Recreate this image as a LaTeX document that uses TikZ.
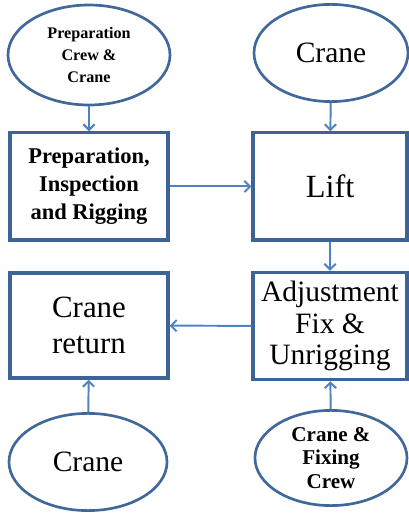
\documentclass[tikz,border=0pt]{standalone}
\usepackage{fontspec}
\setmainfont{Liberation Serif}
\usepackage{xcolor}
\usetikzlibrary{arrows, arrows.meta, shapes.geometric}

\definecolor{boxblue}{HTML}{3C6496}
\definecolor{ovalblue}{HTML}{41689B}
\definecolor{arrowblue}{HTML}{4F83C0}

\tikzset{
  resource/.style={ellipse, draw=ovalblue, line width=1.9pt, align=center, inner sep=0pt},
  task/.style={rectangle, draw=boxblue, line width=2.3pt, align=center, inner sep=0pt},
  flow/.style={draw=arrowblue, line width=1.4pt, -{Straight Barb[length=4pt,width=8pt]}}
}

\begin{document}
\begin{tikzpicture}
%\draw[step=0.5cm,gray,very thin] (0,0) grid (10.225,12.95); %background grid
\useasboundingbox (0,0) rectangle (10.225,12.95);
% resources
\node[resource, minimum width=4.05cm, minimum height=2.5cm,
  font=\fontsize{11.5}{15.5}\selectfont\bfseries] (prepcrew) at (2.225,11.575)
  {Preparation\\Crew \&\\Crane};
\node[resource, minimum width=3.85cm, minimum height=2.43cm,
  font=\fontsize{21}{24}\selectfont] (liftcrane) at (8.275,11.625) {Crane};
\node[resource, minimum width=3.95cm, minimum height=2.43cm,
  font=\fontsize{21}{24}\selectfont] (retcrane) at (2.2,1.4) {Crane};
\node[resource, minimum width=3.8cm, minimum height=2.38cm,
  font=\fontsize{15}{17}\selectfont\bfseries] (fixcrew) at (8.275,1.5)
  {Crane \&\\Fixing\\Crew};
% tasks
\node[task, minimum width=3.95cm, minimum height=2.68cm,
  font=\fontsize{16}{20}\selectfont\bfseries] (prep) at (2.225,8.288)
  {Preparation,\\Inspection\\and Rigging};
\node[task, minimum width=3.85cm, minimum height=2.68cm,
  font=\fontsize{23}{26}\selectfont] (lift) at (8.25,8.288) {Lift};
\node[task, minimum width=3.85cm, minimum height=2.68cm,
  font=\fontsize{21}{22.5}\selectfont] (adjust) at (8.25,4.8)
  {Adjustment\\Fix \&\\Unrigging};
\node[task, minimum width=3.95cm, minimum height=2.63cm,
  font=\fontsize{22}{26}\selectfont] (ret) at (2.225,4.8125)
  {Crane\\return};
% connectors
\draw[flow] (prepcrew) -- (prep);
\draw[flow] (liftcrane) -- (lift);
\draw[flow] (prep) -- (lift);
\draw[flow] (lift) -- (adjust);
\draw[flow] (adjust) -- (ret);
\draw[flow] (retcrane) -- (ret);
\draw[flow] (fixcrew) -- (adjust);
\end{tikzpicture}
\end{document}
